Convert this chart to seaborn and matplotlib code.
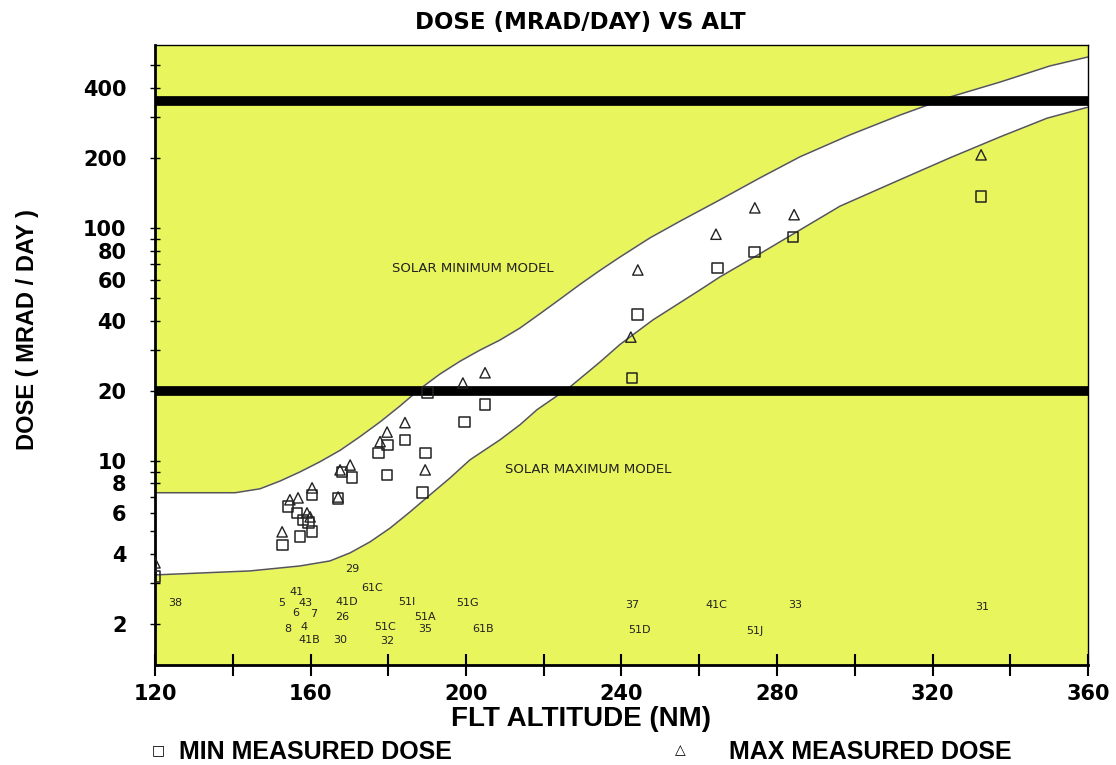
import matplotlib
matplotlib.use("Agg")
import numpy as np
import pandas as pd
import seaborn as sns
import matplotlib.pyplot as plt

# measured doses per flight (altitude NM, dose mrad/day)
min_alt = [120, 152.7, 154.2, 156.5, 158.1, 159.4, 160.4, 157.3, 160.4, 167.1,
           168.1, 170.7, 177.4, 179.9, 179.7, 184.3, 189.5, 188.9, 190.0, 199.7,
           204.9, 242.7, 244.2, 264.6, 274.3, 284.1, 332.5]
min_dose = [3.18, 4.36, 6.35, 5.98, 5.58, 5.42, 4.96, 4.72, 7.14, 6.9,
            8.97, 8.46, 10.8, 11.7, 8.7, 12.3, 10.8, 7.3, 19.6, 14.7,
            17.4, 22.7, 42.4, 67.3, 78.9, 91.4, 136]

max_alt = [120, 152.7, 154.7, 156.8, 159.1, 159.9, 160.4, 167.1, 167.6, 170.2,
           177.9, 179.7, 184.3, 189.5, 199.2, 204.9, 242.4, 244.2, 264.3, 274.3,
           284.4, 332.5]
max_dose = [3.65, 4.96, 6.81, 6.94, 5.98, 5.75, 7.66, 7.0, 9.15, 9.6,
            12.1, 13.3, 14.6, 9.15, 21.6, 23.9, 34, 66, 94, 122,
            114, 206]

# model curves
solar_min_alt = [120, 140.6, 147.0, 152.2, 157.3, 162.4, 167.6, 172.7, 177.9,
                 183.0, 188.2, 193.3, 198.5, 203.6, 208.7, 213.9, 219.0, 224.2,
                 229.3, 234.5, 239.6, 247.3, 255.1, 265.3, 275.6, 285.9, 298.8,
                 311.6, 324.5, 337.4, 350.2, 360]
solar_min_dose = [7.3, 7.3, 7.59, 8.20, 8.97, 9.91, 11.1, 12.7, 14.7,
                  17.2, 20.4, 23.6, 26.8, 29.9, 33.0, 37.2, 42.8, 49.5,
                  57.2, 65.8, 75.0, 90.6, 107, 132, 164, 202, 251,
                  305, 365, 423, 496, 542]
solar_max_alt = [120, 144.4, 157.3, 165.0, 170.2, 175.3, 180.5, 185.6, 190.7,
                 195.9, 201.0, 208.7, 213.9, 218.3, 226.8, 234.5, 239.6, 248.1,
                 260.2, 265.3, 275.6, 285.9, 296.2, 311.6, 324.5, 337.4, 349.5, 360]
solar_max_dose = [3.24, 3.37, 3.54, 3.72, 4.03, 4.49, 5.15, 6.04, 7.14,
                  8.45, 10.1, 12.3, 14.3, 16.6, 20.8, 26.6, 31.6, 40.3,
                  54.2, 61.6, 77.5, 98, 124, 161, 200, 246, 296, 330]

# flight numbers written under the points
flight_names = ["38", "29", "41", "5", "43", "6", "7", "8", "4", "41B", "30",
                "41D", "26", "61C", "51C", "32", "51I", "51A", "35", "51G",
                "61B", "37", "51D", "41C", "51J", "33", "31"]
flight_alt = [125.1, 170.7, 156.5, 152.7, 158.8, 156.3, 160.9, 154.2, 158.3,
              159.6, 167.6, 169.4, 168.1, 175.8, 179.2, 179.7, 184.8, 189.5,
              189.5, 200.3, 204.4, 242.7, 244.5, 264.3, 274.3, 284.6, 332.7]
flight_label_y = [2.46, 3.44, 2.74, 2.46, 2.46, 2.23, 2.20, 1.90, 1.94, 1.70,
                  1.70, 2.48, 2.14, 2.85, 1.93, 1.68, 2.48, 2.14, 1.90, 2.46,
                  1.90, 2.40, 1.88, 2.40, 1.86, 2.40, 2.36]

x_ticks = list(range(120, 361, 20))
y_major = [2, 4, 6, 8, 10, 20, 40, 60, 80, 100, 200, 400]
y_minor = [3, 5, 7, 9, 30, 50, 70, 90, 300, 500]
limit_lines = [20, 350]

sns.set_theme(style="ticks")
plt.rcParams["font.family"] = ["Liberation Sans", "DejaVu Sans"]
plt.rcParams["text.color"] = "black"
plt.rcParams["xtick.color"] = "black"
plt.rcParams["ytick.color"] = "black"

fig = plt.figure(figsize=(11.16, 7.65), dpi=100)
ax = fig.add_axes([155 / 1116, 1 - 665 / 765, (1088 - 155) / 1116, (665 - 45) / 765])
ax.set_facecolor("#e8f55c")
ax.set_yscale("log")

band_x = np.concatenate([solar_min_alt, solar_max_alt[::-1]])
band_y = np.concatenate([solar_min_dose, solar_max_dose[::-1]])
ax.fill(band_x, band_y, color="white", zorder=1)
sns.lineplot(x=solar_min_alt, y=solar_min_dose, ax=ax, color="#555555", lw=1.1, zorder=2)
sns.lineplot(x=solar_max_alt, y=solar_max_dose, ax=ax, color="#555555", lw=1.1, zorder=2)

for v in limit_lines:
    ax.axhline(v, color="black", lw=7, zorder=3)

sns.scatterplot(x=min_alt, y=min_dose, ax=ax, marker="s", s=60,
                facecolor="none", edgecolor="#222222", linewidth=1.1, zorder=4)
sns.scatterplot(x=max_alt, y=max_dose, ax=ax, marker="^", s=55,
                facecolor="none", edgecolor="#222222", linewidth=1.0, zorder=4)

for name, xa, ya in zip(flight_names, flight_alt, flight_label_y):
    ax.text(xa, ya, name, fontsize=8, family="DejaVu Sans", color="#222222",
            ha="center", va="center", zorder=5)

ax.text(201.8, 67, "SOLAR MINIMUM MODEL", fontsize=9.5, family="DejaVu Sans",
        color="#222222", ha="center", va="center")
ax.text(231.4, 9.15, "SOLAR MAXIMUM MODEL", fontsize=9.5, family="DejaVu Sans",
        color="#222222", ha="center", va="center")

ax.set_xlim(120, 360)
ax.set_ylim(1.33, 610)
ax.set_xticks(x_ticks)
ax.set_xticklabels([str(t) if t % 40 == 0 else "" for t in x_ticks])
ax.set_yticks(y_major)
ax.set_yticklabels([str(t) for t in y_major])
ax.set_yticks(y_minor, minor=True)
ax.set_yticklabels([], minor=True)
ax.tick_params(axis="x", direction="inout", length=16, width=1.5, pad=6)
ax.tick_params(axis="y", which="both", direction="inout", length=7, width=1, pad=17)
for lab in ax.get_xticklabels() + ax.get_yticklabels():
    lab.set_fontfamily("DejaVu Sans")
    lab.set_fontweight("bold")
    lab.set_fontsize(15)
for sp in ax.spines.values():
    sp.set_visible(True)
    sp.set_color("black")
ax.spines["left"].set_linewidth(2)
ax.spines["bottom"].set_linewidth(2)
ax.spines["top"].set_linewidth(1)
ax.spines["right"].set_linewidth(1)
ax.set_xlabel("")
ax.set_ylabel("")

fig.text(580 / 1116, 1 - 23 / 765, "DOSE (MRAD/DAY) VS ALT", fontsize=16.5,
         fontweight="bold", family="DejaVu Sans", ha="center", va="center")
fig.text(28 / 1116, 1 - 330 / 765, "DOSE ( MRAD / DAY )", fontsize=17,
         fontweight="bold", rotation=90, ha="center", va="center")
fig.text(581 / 1116, 1 - 719 / 765, "FLT ALTITUDE (NM)", fontsize=20,
         fontweight="bold", ha="center", va="center")
fig.text(158 / 1116, 1 - 750 / 765, "\u25a1", fontsize=10, family="DejaVu Sans",
         ha="center", va="center")
fig.text(179 / 1116, 1 - 752 / 765, "MIN MEASURED DOSE", fontsize=18,
         fontweight="bold", ha="left", va="center")
fig.text(680 / 1116, 1 - 750 / 765, "\u25b3", fontsize=10, family="DejaVu Sans",
         ha="center", va="center")
fig.text(729 / 1116, 1 - 752 / 765, "MAX MEASURED DOSE", fontsize=18,
         fontweight="bold", ha="left", va="center")

fig.savefig("out.png", dpi=100)
